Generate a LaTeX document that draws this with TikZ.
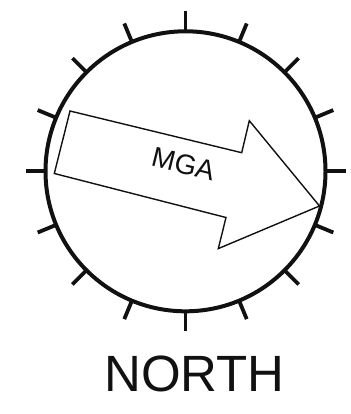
\documentclass[tikz,border=0pt]{standalone}
\usepackage{fontspec}
\setmainfont{Liberation Sans}
\usepackage{xcolor}
\usetikzlibrary{calc}
\definecolor{cink}{HTML}{111111}
\tikzset{
  dial/.style={draw=cink, circle, line width=4pt, minimum size=280pt,
               inner sep=0pt},
  dialtick/.style={draw=cink, line width=3.8pt},
  bigarrow/.style={draw=cink, fill=white, line width=1.4pt, line join=miter},
  arrowtext/.style={text=cink, inner sep=0pt, font=\fontsize{28}{28}\selectfont},
  titletext/.style={text=cink, inner sep=0pt, font=\fontsize{51}{51}\selectfont},
}
\begin{document}
\begin{tikzpicture}[x=1pt, y=-1pt, line cap=butt]
  \useasboundingbox (0,0) rectangle (350,414);

  %% ── Dial ──
  \node[dial] (dial) at (185.5,171.3) {};
  \foreach \ang in {0,22.5,...,337.5}
    \draw[dialtick] ([shift={(\ang:140pt)}]dial.center) -- ([shift={(\ang:160pt)}]dial.center);

  %% ── Arrow ──
  \draw[bigarrow] (70,111) -- (241.7,152.7) -- (249.3,120.7) -- (319.5,206)
    -- (218.3,248.6) -- (226,217.5) -- (54.3,173.5) -- cycle;
  \node[arrowtext, rotate=-14] (mga) at (183.4,164) {MGA};

  %% ── Label ──
  \node[titletext] (north) at (194.5,374) {NORTH};
\end{tikzpicture}
\end{document}
